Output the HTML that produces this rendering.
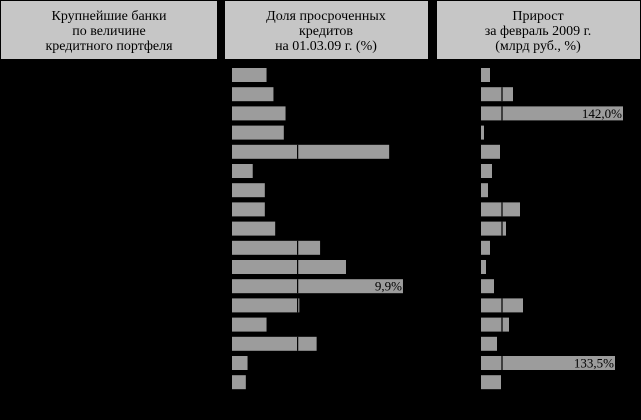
<!DOCTYPE html>
<html><head><meta charset="utf-8"><style>
html,body{margin:0;padding:0;background:#000;}
svg{display:block;}
.hdr{fill:#c6c6c6;}
.ht{font-family:"Liberation Serif",serif;font-size:14px;fill:#000;text-anchor:middle;}
</style></head><body>
<svg id="chart" width="641" height="420" viewBox="0 0 641 420" xmlns="http://www.w3.org/2000/svg">
<rect width="641" height="420" fill="#000"/>
<g>
<rect class="hdr" x="1" y="1" width="216" height="58"/>
<text class="ht" x="109" y="20">Крупнейшие банки</text>
<text class="ht" x="109" y="35">по величине</text>
<text class="ht" x="109" y="50">кредитного портфеля</text>
</g>
<g>
<rect class="hdr" x="225" y="1" width="203" height="58"/>
<text class="ht" x="326" y="20">Доля просроченных</text>
<text class="ht" x="326" y="35">кредитов</text>
<text class="ht" x="326" y="50">на 01.03.09 г. (%)</text>
</g>
<g>
<rect class="hdr" x="437" y="1" width="203" height="58"/>
<text class="ht" x="538" y="20">Прирост</text>
<text class="ht" x="538" y="35">за февраль 2009 г.</text>
<text class="ht" x="538" y="50">(млрд руб., %)</text>
</g>
<g id="mid"></g>
<g id="right"></g>
</svg>
<script>
const overdueShare = [2.0,2.4,3.1,3.0,9.1,1.2,1.9,1.9,2.5,5.1,6.6,9.9,3.9,2.0,4.9,0.9,0.8];
const overdueLabels = ["","","","","","","","","","","","9,9%","","","","",""];
const growthPct = [9,32,142,3,19,11,7,39,25,9,5,13,42,28,16,134,20];
const growthLabels = ["","","142,0%","","","","","","","","","","","","","133,5%",""];
const overdueGrid = 3.8;
const growthGrid = 21;

const NS="http://www.w3.org/2000/svg";
const rowY = i => 68 + i*19.2;
const barH = 14;
const xMid = v => 232 + v*17.27;
const xRight = v => 481 + v*1.0;

function drawSeries(gid, vals, labels, xf, grid, prefix){
  const g=document.getElementById(gid);
  const x0=xf(0);
  vals.forEach((v,i)=>{
    const r=document.createElementNS(NS,'rect');
    r.setAttribute('x',x0);
    r.setAttribute('y',rowY(i));
    r.setAttribute('width',xf(v)-x0);
    r.setAttribute('height',barH);
    r.setAttribute('fill','#9c9c9c');
    
    
    g.appendChild(r);
    if(v>grid){
      const l=document.createElementNS(NS,'line');
      l.setAttribute('x1',xf(grid));l.setAttribute('x2',xf(grid));
      l.setAttribute('y1',rowY(i));l.setAttribute('y2',rowY(i)+barH);
      l.setAttribute('stroke','#000');l.setAttribute('stroke-width','1.2');
      
      
      g.appendChild(l);
    }
    if(labels[i]){
      const t=document.createElementNS(NS,'text');
      t.setAttribute('x',xf(v)-1);
      t.setAttribute('y',rowY(i)+11.5);
      t.setAttribute('text-anchor','end');
      t.setAttribute('font-family','"Liberation Serif", serif');
      t.setAttribute('font-size','13');
      t.setAttribute('fill','#000');
      
      
      t.textContent=labels[i];
      g.appendChild(t);
    }
  });
}
drawSeries('mid',overdueShare,overdueLabels,xMid,overdueGrid,'overdue');
drawSeries('right',growthPct,growthLabels,xRight,growthGrid,'growth');
</script>
</body></html>
